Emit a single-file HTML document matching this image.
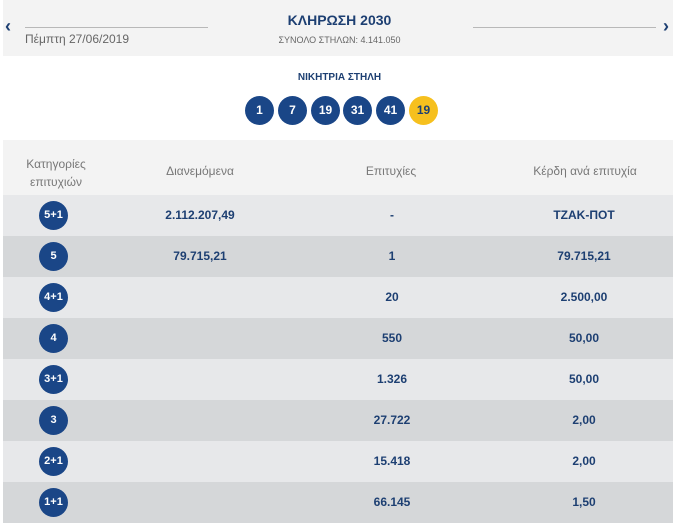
<!DOCTYPE html>
<html><head><meta charset="utf-8"><style>
body{margin:0;width:679px;height:522px;overflow:hidden;background:#fff;font-family:"Liberation Sans","DejaVu Sans",sans-serif;position:relative}
.a{position:absolute}
.hdr{left:3px;top:0;width:670px;height:56px;background:#f3f3f3}
.ln{height:1px;background:#b8b8b8;top:27px}
.ball{position:absolute;top:96px;width:29px;height:29px;border-radius:50%;background:#1a4687;color:#fff;font-weight:bold;font-size:12px;line-height:29px;text-align:center}
.row{position:absolute;left:3px;width:670px;height:41px;color:#1d3f72;font-weight:bold;font-size:12px}
.row span{position:absolute;top:0;line-height:41px;transform:translateX(-50%);white-space:nowrap}
.c{position:absolute;left:36px;top:6px;width:29px;height:29px;border-radius:50%;background:#1a4687;color:#fff;font-size:11px;font-weight:bold;line-height:29px;text-align:center}
.th{position:absolute;color:#777;font-size:12px;transform:translateX(-50%);text-align:center;white-space:nowrap}
</style></head><body>
<div class="a hdr"></div>
<div class="a" style="left:5px;top:16px;color:#1d3f72;font-size:18px;font-weight:bold">‹</div>
<div class="a" style="left:663px;top:16px;color:#1d3f72;font-size:18px;font-weight:bold">›</div>
<div class="a ln" style="left:25px;width:183px"></div>
<div class="a ln" style="left:473px;width:183px"></div>
<div class="a" style="left:25px;top:32px;color:#666;font-size:12px">Πέμπτη 27/06/2019</div>
<div class="a" style="left:0;width:679px;top:12px;text-align:center;color:#1d3f72;font-weight:bold;font-size:14px">ΚΛΗΡΩΣΗ 2030</div>
<div class="a" style="left:0;width:679px;top:35px;text-align:center;color:#666;font-size:9px">ΣΥΝΟΛΟ ΣΤΗΛΩΝ: 4.141.050</div>
<div class="a" style="left:0;width:679px;top:72px;text-align:center;color:#1d3f72;font-weight:bold;font-size:10px">ΝΙΚΗΤΡΙΑ ΣΤΗΛΗ</div>
<div class="ball" style="left:245px">1</div>
<div class="ball" style="left:278px">7</div>
<div class="ball" style="left:311px">19</div>
<div class="ball" style="left:343px">31</div>
<div class="ball" style="left:376px">41</div>
<div class="ball" style="left:409px;background:#f6c01e;color:#1d3f72">19</div>
<div class="a" style="left:3px;top:140px;width:670px;height:55px;background:#f3f3f3"></div>
<div class="th" style="left:56px;top:155px;line-height:18px">Κατηγορίες<br>επιτυχιών</div>
<div class="th" style="left:200px;top:164px">Διανεμόμενα</div>
<div class="th" style="left:391px;top:164px">Επιτυχίες</div>
<div class="th" style="left:585px;top:164px">Κέρδη ανά επιτυχία</div>
<div class="row" style="top:195px;background:#e7e8ea"><div class="c">5+1</div><span style="left:197px">2.112.207,49</span><span style="left:389px">-</span><span style="left:581px">ΤΖΑΚ-ΠΟΤ</span></div>
<div class="row" style="top:236px;background:#d5d7d9"><div class="c">5</div><span style="left:197px">79.715,21</span><span style="left:389px">1</span><span style="left:581px">79.715,21</span></div>
<div class="row" style="top:277px;background:#e7e8ea"><div class="c">4+1</div><span style="left:389px">20</span><span style="left:581px">2.500,00</span></div>
<div class="row" style="top:318px;background:#d5d7d9"><div class="c">4</div><span style="left:389px">550</span><span style="left:581px">50,00</span></div>
<div class="row" style="top:359px;background:#e7e8ea"><div class="c">3+1</div><span style="left:389px">1.326</span><span style="left:581px">50,00</span></div>
<div class="row" style="top:400px;background:#d5d7d9"><div class="c">3</div><span style="left:389px">27.722</span><span style="left:581px">2,00</span></div>
<div class="row" style="top:441px;background:#e7e8ea"><div class="c">2+1</div><span style="left:389px">15.418</span><span style="left:581px">2,00</span></div>
<div class="row" style="top:482px;background:#d5d7d9"><div class="c">1+1</div><span style="left:389px">66.145</span><span style="left:581px">1,50</span></div>
</body></html>
